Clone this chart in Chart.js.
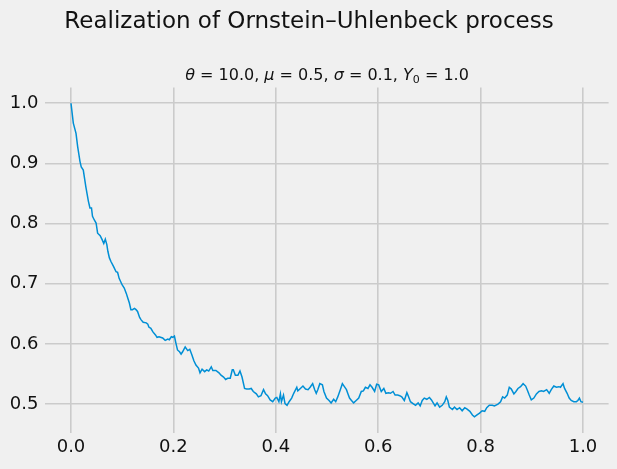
<!DOCTYPE html>
<html>
<head>
<meta charset="utf-8">
<script src="https://cdn.jsdelivr.net/npm/chart.js@4"></script>
<style>
  html, body { margin: 0; padding: 0; background: #f0f0f0; }
  canvas { display: block; }
</style>
</head>
<body>
<canvas id="ouChart" width="617" height="469"></canvas>
<script>
// values
const timeSteps = [
  0.000, 0.0045, 0.0098, 0.013, 0.0176, 0.020, 0.024, 0.029, 0.034, 0.037,
  0.040, 0.042, 0.0455, 0.049, 0.052, 0.057, 0.061, 0.064, 0.067, 0.070,
  0.072, 0.075, 0.078, 0.083, 0.088, 0.091, 0.094, 0.100, 0.104, 0.108,
  0.111, 0.114, 0.117, 0.120, 0.124, 0.127, 0.130, 0.134, 0.137, 0.141,
  0.147, 0.150, 0.152, 0.156, 0.160, 0.165, 0.168, 0.172, 0.179, 0.184,
  0.189, 0.192, 0.196, 0.199, 0.202, 0.205, 0.208, 0.212, 0.215, 0.218,
  0.223, 0.228, 0.232, 0.236, 0.240, 0.244, 0.249, 0.252, 0.256, 0.261,
  0.265, 0.269, 0.274, 0.277, 0.283, 0.289, 0.293, 0.298, 0.302, 0.306,
  0.311, 0.315, 0.317, 0.321, 0.326, 0.330, 0.334, 0.339, 0.343, 0.348,
  0.352, 0.356, 0.362, 0.366, 0.371, 0.376, 0.380, 0.384, 0.389, 0.394,
  0.399, 0.402, 0.406, 0.409, 0.411, 0.415, 0.418, 0.422, 0.426, 0.431,
  0.435, 0.441, 0.443, 0.448, 0.453, 0.458, 0.463, 0.467, 0.472, 0.476,
  0.479, 0.482, 0.486, 0.491, 0.494, 0.499, 0.504, 0.508, 0.513, 0.517,
  0.521, 0.526, 0.530, 0.534, 0.538, 0.541, 0.544, 0.547, 0.552, 0.557,
  0.562, 0.567, 0.571, 0.575, 0.580, 0.584, 0.588, 0.593, 0.597, 0.601,
  0.606, 0.611, 0.615, 0.620, 0.624, 0.629, 0.633, 0.638, 0.642, 0.646,
  0.651, 0.656, 0.658, 0.663, 0.668, 0.673, 0.678, 0.682, 0.686, 0.690,
  0.695, 0.700, 0.704, 0.711, 0.715, 0.720, 0.725, 0.730, 0.733, 0.736,
  0.739, 0.745, 0.749, 0.754, 0.759, 0.764, 0.769, 0.773, 0.779, 0.784,
  0.788, 0.793, 0.798, 0.803, 0.808, 0.812, 0.817, 0.823, 0.827, 0.834,
  0.839, 0.843, 0.847, 0.852, 0.856, 0.860, 0.865, 0.869, 0.873, 0.878,
  0.883, 0.888, 0.891, 0.895, 0.899, 0.904, 0.909, 0.914, 0.919, 0.923,
  0.929, 0.934, 0.938, 0.943, 0.948, 0.953, 0.956, 0.961, 0.964, 0.969,
  0.973, 0.977, 0.982, 0.987, 0.990, 0.993, 0.996, 1.000
];
const processValues = [
  1.000, 0.967, 0.950, 0.928, 0.903, 0.894, 0.889, 0.861, 0.837, 0.826,
  0.826, 0.812, 0.806, 0.801, 0.784, 0.780, 0.773, 0.767, 0.774, 0.765,
  0.754, 0.743, 0.737, 0.729, 0.720, 0.719, 0.709, 0.698, 0.693, 0.684,
  0.676, 0.668, 0.657, 0.657, 0.659, 0.657, 0.654, 0.644, 0.640, 0.636,
  0.635, 0.633, 0.628, 0.626, 0.620, 0.615, 0.611, 0.612, 0.610, 0.606,
  0.608, 0.607, 0.612, 0.611, 0.613, 0.601, 0.590, 0.587, 0.583, 0.587,
  0.595, 0.589, 0.591, 0.582, 0.572, 0.565, 0.560, 0.552, 0.558, 0.554,
  0.557, 0.555, 0.562, 0.556, 0.556, 0.552, 0.548, 0.545, 0.541, 0.543,
  0.543, 0.557, 0.557, 0.548, 0.548, 0.555, 0.545, 0.526, 0.525, 0.525,
  0.526, 0.521, 0.517, 0.512, 0.514, 0.524, 0.517, 0.514, 0.507, 0.504,
  0.510, 0.511, 0.504, 0.517, 0.504, 0.515, 0.501, 0.498, 0.504, 0.510,
  0.518, 0.528, 0.522, 0.526, 0.530, 0.525, 0.524, 0.528, 0.534, 0.524,
  0.518, 0.524, 0.534, 0.532, 0.521, 0.510, 0.506, 0.502, 0.508, 0.504,
  0.512, 0.524, 0.534, 0.529, 0.524, 0.517, 0.510, 0.507, 0.502, 0.506,
  0.510, 0.521, 0.522, 0.528, 0.526, 0.532, 0.528, 0.521, 0.533, 0.532,
  0.521, 0.526, 0.518, 0.519, 0.518, 0.521, 0.515, 0.515, 0.514, 0.512,
  0.506, 0.519, 0.515, 0.504, 0.501, 0.498, 0.502, 0.497, 0.506, 0.510,
  0.508, 0.511, 0.507, 0.497, 0.502, 0.495, 0.498, 0.504, 0.512, 0.506,
  0.495, 0.491, 0.495, 0.491, 0.494, 0.489, 0.494, 0.492, 0.488, 0.482,
  0.479, 0.482, 0.485, 0.489, 0.488, 0.494, 0.498, 0.498, 0.497, 0.500,
  0.504, 0.512, 0.510, 0.515, 0.528, 0.525, 0.517, 0.521, 0.526, 0.529,
  0.534, 0.530, 0.524, 0.515, 0.507, 0.510, 0.517, 0.521, 0.522, 0.521,
  0.524, 0.518, 0.524, 0.530, 0.528, 0.529, 0.528, 0.534, 0.526, 0.518,
  0.510, 0.506, 0.504, 0.504, 0.506, 0.510, 0.504, 0.503
];
const xTicks = [0.0, 0.2, 0.4, 0.6, 0.8, 1.0];
const yTicks = [0.5, 0.6, 0.7, 0.8, 0.9, 1.0];

const chartTitle = 'Realization of Ornstein–Uhlenbeck process';
// [text, style] : 'i' = math italic, 'n' = normal, 's' = subscript
const subtitleParts = [
  ['θ', 'i'], [' = 10.0, ', 'n'], ['μ', 'i'], [' = 0.5, ', 'n'],
  ['σ', 'i'], [' = 0.1, ', 'n'], ['Y', 'i'], ['0', 's'], [' = 1.0', 'n']
];

const FONT = '"DejaVu Sans", sans-serif';
const lineColor = '#008fd5';
const gridColor = '#cbcbcb';
const textColor = '#111111';

const figureText = {
  id: 'figureText',
  beforeDraw(chart) {
    const c = chart.ctx;
    c.save();
    c.fillStyle = '#f0f0f0';
    c.fillRect(0, 0, chart.width, chart.height);
    c.restore();
  },
  afterDraw(chart) {
    const c = chart.ctx;
    c.save();
    c.fillStyle = textColor;
    c.textBaseline = 'alphabetic';
    c.textAlign = 'center';
    c.font = '23px ' + FONT;
    c.fillText(chartTitle, 309, 28);

    // subtitle, centered over the axes
    const fontFor = s => s === 'i' ? 'italic 16px ' + FONT : s === 's' ? '11px ' + FONT : '16px ' + FONT;
    c.textAlign = 'left';
    let total = 0;
    subtitleParts.forEach(([t, s]) => { c.font = fontFor(s); total += c.measureText(t).width; });
    const area = chart.chartArea;
    let x = (area.left + area.right) / 2 - total / 2;
    subtitleParts.forEach(([t, s]) => {
      c.font = fontFor(s);
      c.fillText(t, x, s === 's' ? 83 : 80);
      x += c.measureText(t).width;
    });
    c.restore();
  }
};

new Chart(document.getElementById('ouChart').getContext('2d'), {
  type: 'line',
  data: {
    datasets: [{
      data: timeSteps.map((t, i) => ({ x: t, y: processValues[i] })),
      borderColor: lineColor,
      borderWidth: 1.5,
      pointRadius: 0,
      tension: 0,
      fill: false
    }]
  },
  options: {
    responsive: false,
    animation: false,
    devicePixelRatio: 1,
    layout: { padding: { top: 87.6, right: 8.4, left: 0, bottom: 0 } },
    plugins: { legend: { display: false }, tooltip: { enabled: false } },
    scales: {
      x: {
        type: 'linear',
        min: -0.05,
        max: 1.05,
        afterBuildTicks: s => { s.ticks = xTicks.map(v => ({ value: v })); },
        afterFit: s => { s.height = 36; },
        ticks: {
          callback: v => v.toFixed(1),
          font: { family: FONT, size: 18 },
          color: textColor,
          padding: 4,
          maxRotation: 0
        },
        grid: { color: gridColor, lineWidth: 1.6, drawTicks: false },
        border: { display: false }
      },
      y: {
        min: 0.452,
        max: 1.026,
        afterBuildTicks: s => { s.ticks = yTicks.map(v => ({ value: v })); },
        afterFit: s => { s.width = 45.4; },
        ticks: {
          callback: v => v.toFixed(1),
          font: { family: FONT, size: 18 },
          color: textColor,
          padding: 7
        },
        grid: { color: gridColor, lineWidth: 1.6, drawTicks: false },
        border: { display: false }
      }
    }
  },
  plugins: [figureText]
});
</script>
</body>
</html>
